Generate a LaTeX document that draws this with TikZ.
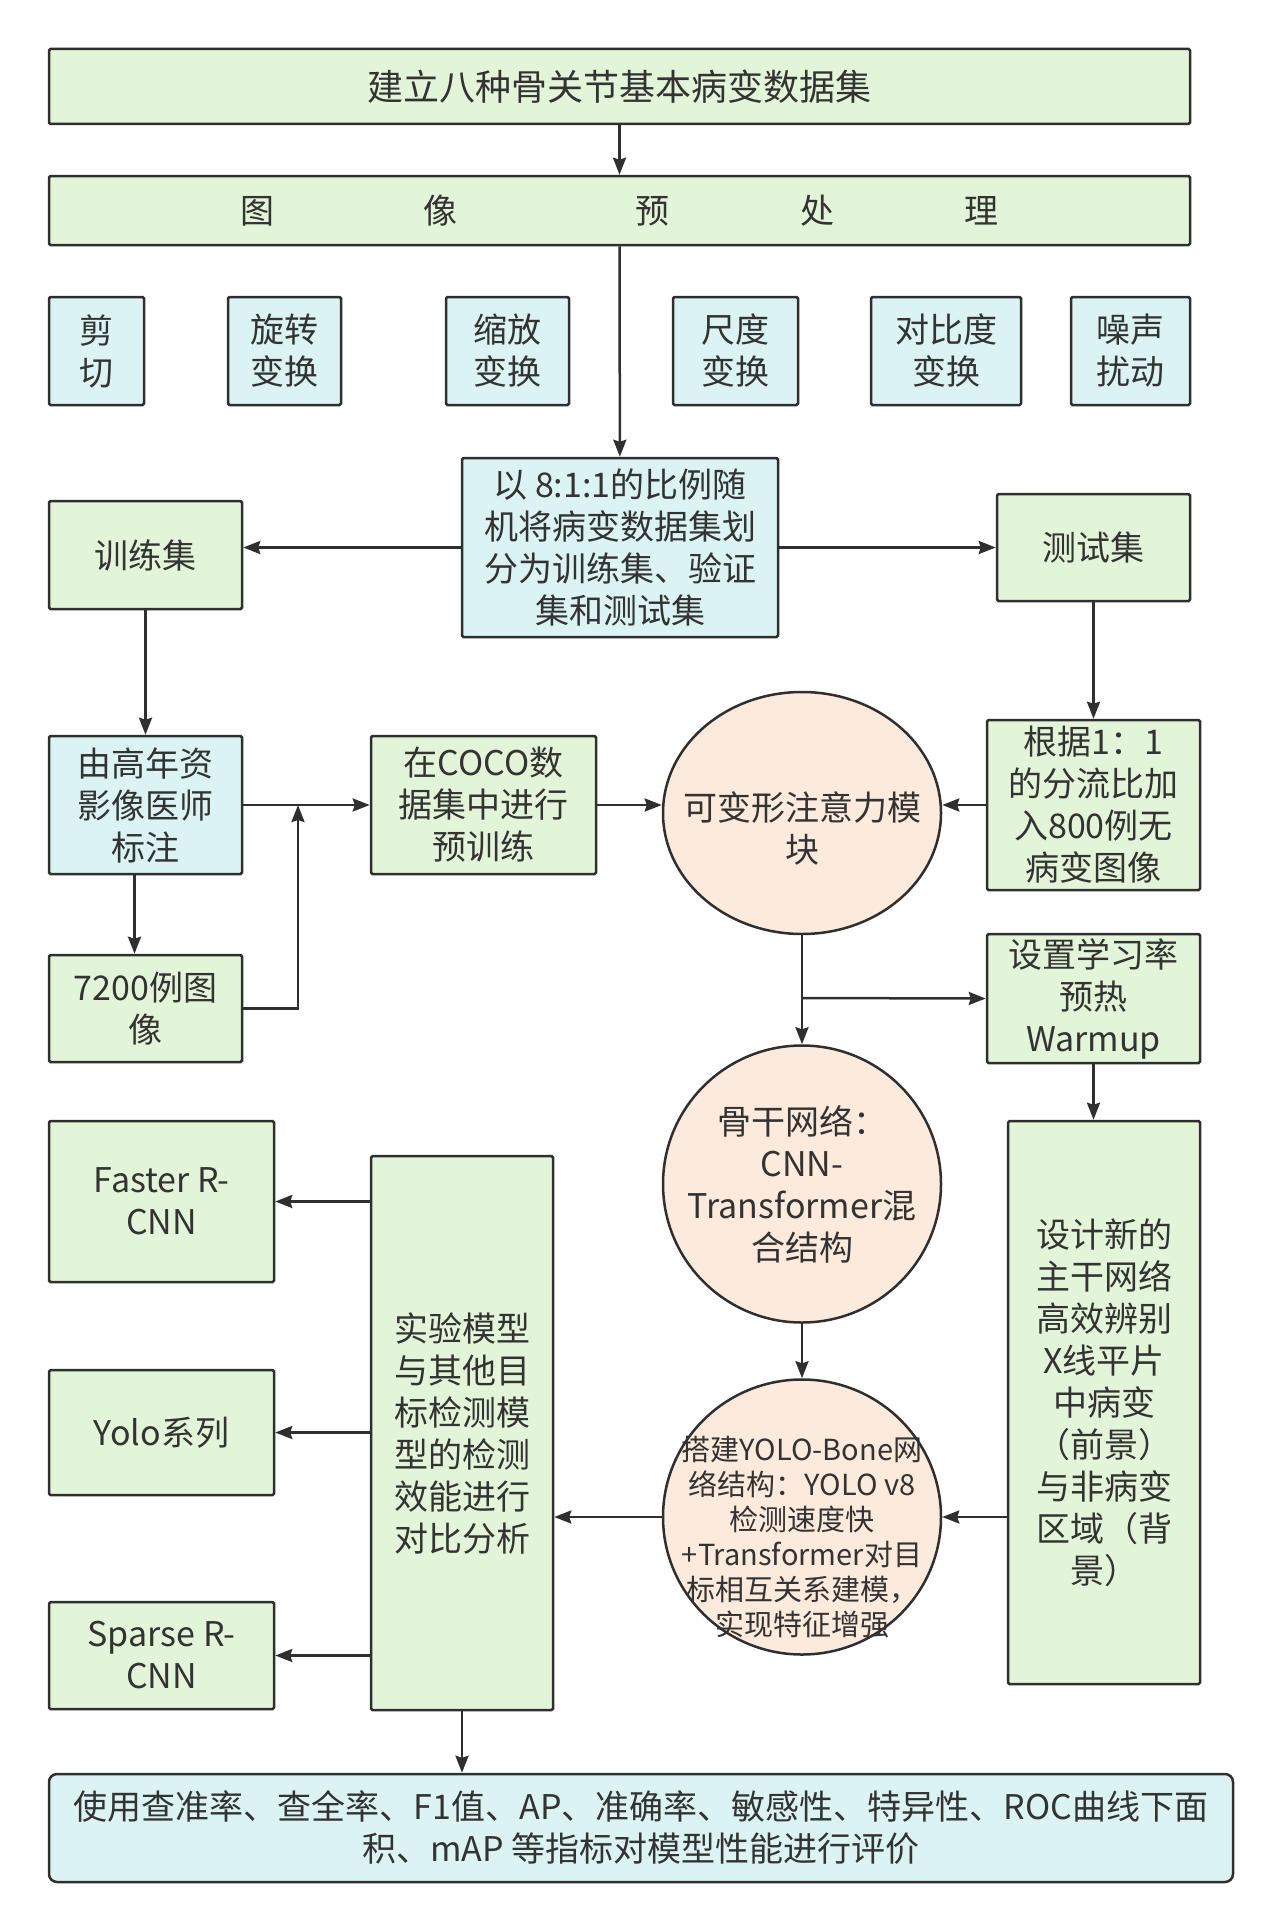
\documentclass[tikz,border=0pt]{standalone}
\usepackage{fontspec}
\setmainfont{Noto Sans CJK SC}
\usetikzlibrary{arrows.meta,shapes.geometric}
\definecolor{boxGreen}{HTML}{E3F5D8}
\definecolor{boxCyan}{HTML}{DBF3F3}
\definecolor{boxPeach}{HTML}{FCEADC}
\definecolor{lineGray}{HTML}{2F2F2F}
\definecolor{txtGray}{HTML}{333333}

\begin{document}
\begin{tikzpicture}[x=1pt, y=-1pt,
    base/.style={draw=lineGray, line width=2.5pt, text=txtGray, align=center,
      inner sep=0pt, rounded corners=1.5pt, font=\fontsize{34}{42}\selectfont},
    gbox/.style={base, fill=boxGreen},
    cbox/.style={base, fill=boxCyan},
    bubble/.style={base, ellipse, fill=boxPeach},
    inlabel/.style={text=txtGray, align=center, font=\fontsize{34}{42}\selectfont},
    link/.style={-{Stealth[length=17pt,width=13pt,inset=2pt]}, line width=2.5pt, lineGray}]
  \useasboundingbox (0,0) rectangle (1284,1932);

  % data set and preprocessing
  \node[gbox, minimum width=1141pt, minimum height=75pt, font=\fontsize{36}{42}\selectfont]
    (title) at (619.5,86.5) {建立八种骨关节基本病变数据集};
  \node[gbox, minimum width=1141pt, minimum height=69pt] (prep) at (619.5,210.5)
    {图\hspace{149pt}像\hspace{178pt}预\hspace{131pt}处\hspace{130pt}理};
  \node[cbox, minimum width=95pt,  minimum height=108pt] (cut)    at (96.5,351)  {剪\\切};
  \node[cbox, minimum width=113pt, minimum height=108pt] (rot)    at (284.5,351) {旋转\\变换};
  \node[cbox, minimum width=123pt, minimum height=108pt] (zoomT)  at (507.5,351) {缩放\\变换};
  \node[cbox, minimum width=125pt, minimum height=108pt] (scaleT) at (735.5,351) {尺度\\变换};
  \node[cbox, minimum width=150pt, minimum height=108pt] (contr)  at (946,351)   {对比度\\变换};
  \node[cbox, minimum width=119pt, minimum height=108pt] (noise)  at (1130.5,351) {噪声\\扰动};

  % split
  \node[cbox, minimum width=316pt, minimum height=179pt] (split) at (620,547.5)
    {以 8:1:1的比例随\\机将病变数据集划\\分为训练集、验证\\集和测试集};
  \node[gbox, minimum width=193pt, minimum height=108pt] (train) at (145.5,555) {训练集};
  \node[gbox, minimum width=193pt, minimum height=107pt] (test) at (1093.5,547.5) {测试集};

  % training branch
  \node[cbox, minimum width=193pt, minimum height=138pt] (anno) at (145.5,805)
    {由高年资\\影像医师\\标注};
  \node[gbox, minimum width=193pt, minimum height=107pt] (img) at (145.5,1008.5)
    {7200例图\\像};
  \node[gbox, minimum width=225pt, minimum height=138pt] (coco) at (483.5,805)
    {在COCO数\\据集中进行\\预训练};
  \node[bubble, minimum width=278pt, minimum height=242pt,
        label={[inlabel, yshift=-15pt]center:{可变形注意力模\\块}}] (att) at (802,813) {};
  \node[gbox, minimum width=213pt, minimum height=170pt] (ratio) at (1093.5,805)
    {根据1：1\\的分流比加\\入800例无\\病变图像};
  \node[gbox, minimum width=213pt, minimum height=129pt] (warm) at (1093.5,998.5)
    {设置学习率\\预热\\Warmup};

  % network
  \node[bubble, minimum width=278pt, minimum height=277pt,
        label={[inlabel]center:{骨干网络：\\CNN-\\Transformer混\\合结构}}] (bb) at (802,1184) {};
  \node[bubble, minimum width=278pt, minimum height=275pt,
        label={[inlabel, yshift=-20pt, font=\fontsize{29}{35}\selectfont]center:{搭建YOLO-Bone网\\络结构：YOLO v8\\检测速度快\\+Transformer对目\\标相互关系建模，\\实现特征增强}}] (yolo) at (802,1517) {};
  \node[gbox, minimum width=192pt, minimum height=563pt] (design) at (1104,1402.5)
    {设计新的\\主干网络\\高效辨别\\X线平片\\中病变\\（前景）\\与非病变\\区域（背\\景）};

  % comparison
  \node[gbox, minimum width=182pt, minimum height=554pt] (exp) at (462,1433)
    {实验模型\\与其他目\\标检测模\\型的检测\\效能进行\\对比分析};
  \node[gbox, minimum width=225pt, minimum height=161pt] (faster) at (161.5,1201.5)
    {Faster R-\\CNN};
  \node[gbox, minimum width=225pt, minimum height=125pt] (yoloS) at (161.5,1432.5)
    {Yolo系列};
  \node[gbox, minimum width=225pt, minimum height=107pt] (sparse) at (161.5,1655.5)
    {Sparse R-\\CNN};
  \node[cbox, rounded corners=8pt, minimum width=1184pt, minimum height=108pt] (eval) at (641,1828)
    {使用查准率、查全率、F1值、AP、准确率、敏感性、特异性、ROC曲线下面\\积、mAP 等指标对模型性能进行评价};

  \coordinate (merge) at (298,805);
  \coordinate (fork) at (802,998);

  \draw[link] (title) -- (prep);
  \draw[link] (prep) -- (split);
  \draw[link] (split.west) -- (split.west -| train.east);
  \draw[link] (split.east) -- (test.west);
  \draw[link] (train) -- (anno);
  \draw[link] ([xshift=-11pt]anno.south) -- ([xshift=-11pt]anno.south |- img.north);
  \draw[link] (anno) -- (coco);
  \draw[link] (img.east) -| (merge);
  \draw[link] (coco.east) -- (att.west |- coco.east);
  \draw[link] (ratio.west) -- (ratio.west -| att.east);
  \draw[link] (test) -- (ratio);
  \draw[link] (att) -- (bb);
  \draw[link] (fork) -- (warm.west);
  \draw[link] (bb) -- (yolo);
  \draw[link] (warm.south) -- (warm.south |- design.north);
  \draw[link] (design.west |- yolo.east) -- (yolo.east);
  \draw[link] (yolo.west) -- (yolo.west -| exp.east);
  \draw[link] (exp.west |- faster.east) -- (faster.east);
  \draw[link] (exp.west |- yoloS.east) -- (yoloS.east);
  \draw[link] (exp.west |- sparse.east) -- (sparse.east);
  \draw[link] (exp.south) -- (exp.south |- eval.north);
\end{tikzpicture}
\end{document}
